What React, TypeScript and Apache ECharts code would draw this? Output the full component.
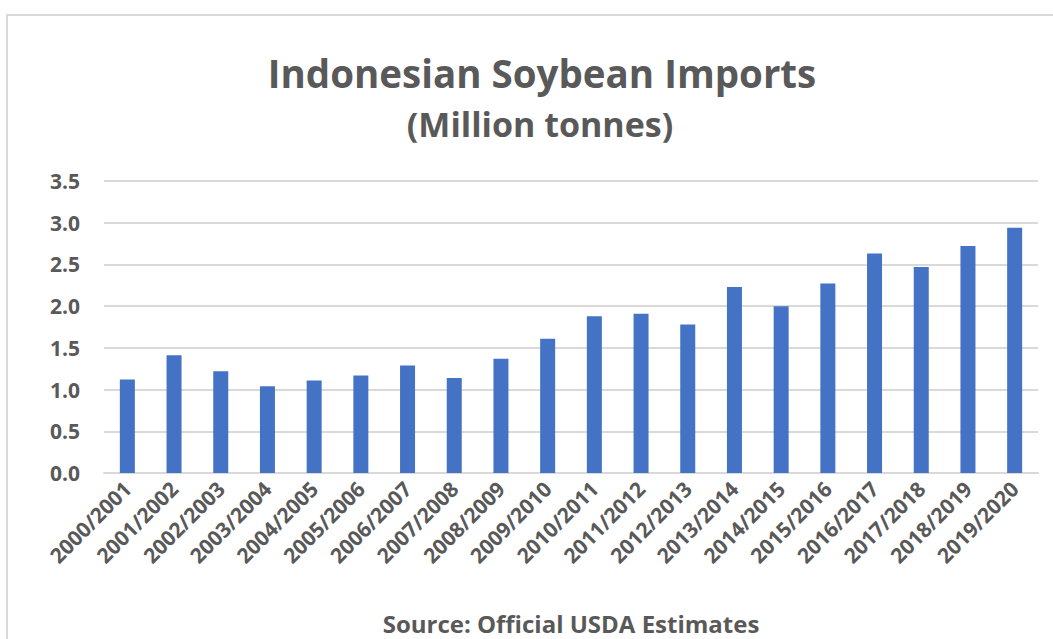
import React, { useEffect, useRef } from "react";
import * as echarts from "echarts";

const categories = [
  "2000/2001", "2001/2002", "2002/2003", "2003/2004", "2004/2005",
  "2005/2006", "2006/2007", "2007/2008", "2008/2009", "2009/2010",
  "2010/2011", "2011/2012", "2012/2013", "2013/2014", "2014/2015",
  "2015/2016", "2016/2017", "2017/2018", "2018/2019", "2019/2020",
];
const imports = [
  1.12, 1.41, 1.22, 1.04, 1.11, 1.17, 1.29, 1.14, 1.37, 1.61,
  1.88, 1.91, 1.78, 2.23, 2.0, 2.27, 2.63, 2.47, 2.72, 2.94,
];
const yTicks = { min: 0, max: 3.5, interval: 0.5 };
const titleText = "Indonesian Soybean Imports";
const subtitleText = "(Million tonnes)";
const sourceText = "Source: Official USDA Estimates";

const FONT = "'Open Sans', 'Noto Sans', sans-serif";
const GREY = "#595959";

export default function App() {
  const ref = useRef<HTMLDivElement>(null);
  useEffect(() => {
    if (!ref.current) return;
    const chart = echarts.init(ref.current, null, { renderer: "svg" });
    chart.setOption({
      animation: false,
      backgroundColor: "#ffffff",
      graphic: [
        {
          type: "rect",
          shape: { x: 7, y: 15, width: 1200, height: 800 },
          style: { fill: "none", stroke: "#d9d9d9", lineWidth: 2 },
          silent: true,
        },
        {
          type: "text",
          x: 542,
          y: 73,
          style: {
            text: titleText,
            fontFamily: FONT,
            fontSize: 38.5,
            fontWeight: "bold",
            fill: GREY,
            align: "center",
            verticalAlign: "middle",
          },
        },
        {
          type: "text",
          x: 540,
          y: 124,
          style: {
            text: subtitleText,
            fontFamily: FONT,
            fontSize: 34,
            fontWeight: "bold",
            fill: GREY,
            align: "center",
            verticalAlign: "middle",
          },
        },
        {
          type: "text",
          x: 571,
          y: 623,
          style: {
            text: sourceText,
            fontFamily: FONT,
            fontSize: 24,
            fontWeight: "bold",
            fill: GREY,
            align: "center",
            verticalAlign: "middle",
          },
        },
      ],
      grid: { left: 104, right: 15, top: 181, bottom: 166, containLabel: false },
      xAxis: {
        type: "category",
        data: categories,
        axisLine: { show: true, lineStyle: { color: "#d9d9d9", width: 2 } },
        axisTick: { show: false },
        axisLabel: {
          rotate: 45,
          interval: 0,
          margin: 12,
          fontFamily: FONT,
          fontSize: 21,
          fontWeight: "bold",
          color: GREY,
        },
      },
      yAxis: {
        type: "value",
        min: yTicks.min,
        max: yTicks.max,
        interval: yTicks.interval,
        axisLine: { show: false },
        axisTick: { show: false },
        splitLine: { lineStyle: { color: "#d9d9d9", width: 2 } },
        axisLabel: {
          formatter: (v: number) => v.toFixed(1),
          margin: 24,
          fontFamily: FONT,
          fontSize: 21,
          fontWeight: "bold",
          color: GREY,
        },
      },
      series: [
        {
          type: "bar",
          data: imports,
          barWidth: 15,
          itemStyle: { color: "#4472c4" },
        },
      ],
    });
    return () => chart.dispose();
  }, []);
  return (
    <div
      ref={ref}
      style={{ position: "absolute", left: 0, top: 0, width: 1053, height: 639 }}
    />
  );
}
